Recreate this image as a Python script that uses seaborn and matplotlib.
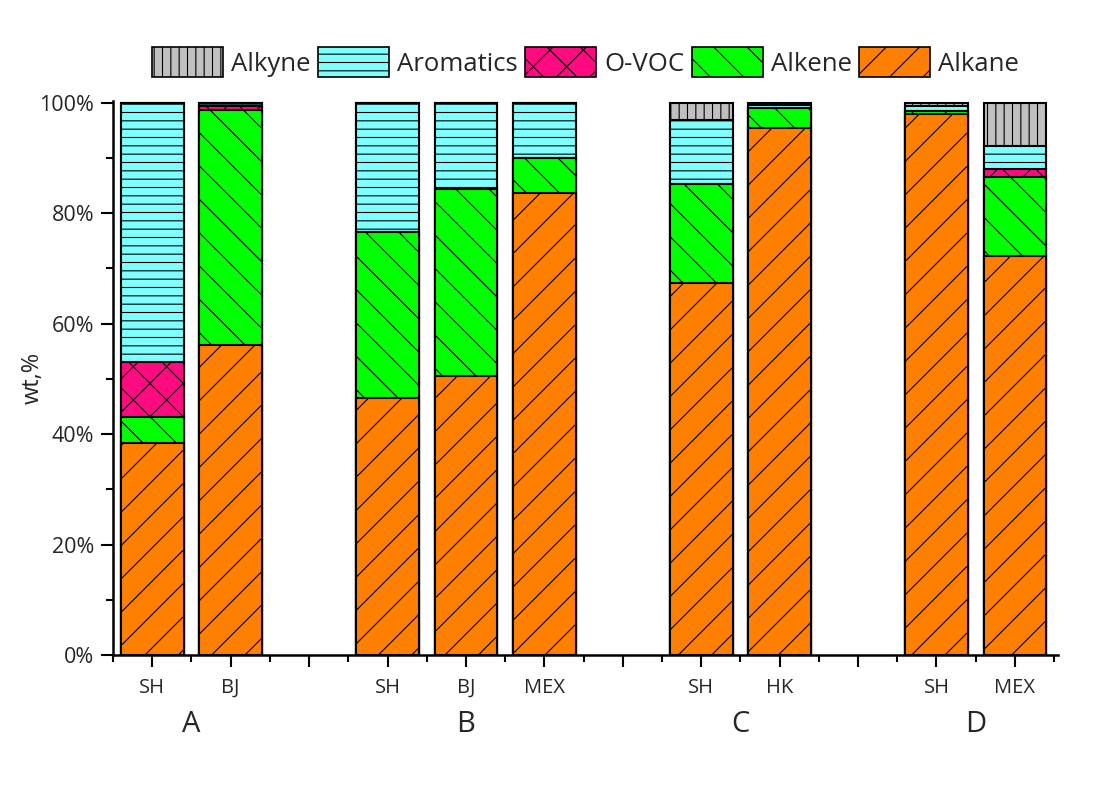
import numpy as np
import pandas as pd
import matplotlib
matplotlib.use("Agg")
import matplotlib.pyplot as plt
import seaborn as sns
from matplotlib.patches import Patch
from matplotlib.ticker import FixedLocator, MultipleLocator, FuncFormatter

# Composition (wt %) of VOC species per site, grouped by study
groups = ["A", "A", "B", "B", "B", "C", "C", "D", "D"]
sites = ["SH", "BJ", "SH", "BJ", "MEX", "SH", "HK", "SH", "MEX"]

alkane = [38.3, 56.1, 46.6, 50.5, 83.6, 67.3, 95.4, 97.9, 72.2]
alkene = [4.8, 42.6, 29.9, 33.8, 6.3, 17.9, 3.7, 0.5, 14.3]
ovoc = [10.0, 0.6, 0.0, 0.0, 0.0, 0.0, 0.0, 0.0, 1.4]
aromatics = [46.9, 0.7, 23.5, 15.7, 10.1, 11.7, 0.4, 1.0, 4.3]
alkyne = [0.0, 0.0, 0.0, 0.0, 0.0, 3.1, 0.5, 0.6, 7.8]

species = ["Alkane", "Alkene", "O-VOC", "Aromatics", "Alkyne"]  # bottom -> top
values = {"Alkane": alkane, "Alkene": alkene, "O-VOC": ovoc,
          "Aromatics": aromatics, "Alkyne": alkyne}
colors = {"Alkane": "#FF8000", "Alkene": "#00FF00", "O-VOC": "#FF0A80",
          "Aromatics": "#80FFFF", "Alkyne": "#C0C0C0"}
hatches = {"Alkane": "/", "Alkene": "\\", "O-VOC": "x",
           "Aromatics": "--", "Alkyne": "||"}

# slot positions, one empty slot between groups
positions = []
slot, prev = 0, None
for g in groups:
    if prev is not None and g != prev:
        slot += 1
    positions.append(slot)
    slot += 1
    prev = g
n_slots = slot

# cumulative tops for stacking
rows = []
cum = np.zeros(len(sites))
for s in species:
    cum = cum + np.array(values[s])
    for p, top in zip(positions, cum):
        rows.append({"pos": p, "species": s, "top": top})
df = pd.DataFrame(rows)

sns.set_theme(style="ticks")
plt.rcParams["font.family"] = ["Open Sans", "DejaVu Sans"]
plt.rcParams["hatch.linewidth"] = 0.8

fig = plt.figure(figsize=(11.05, 7.87), dpi=100)
ax = fig.add_axes([0.1023, 0.1677, 0.8552, 0.704])

# draw from the top layer down so each lower layer covers the one above
for s in reversed(species):
    sub = df[df["species"] == s]
    sns.barplot(data=sub, x="pos", y="top", native_scale=True, width=0.8,
                color=colors[s], saturation=1, edgecolor="black",
                linewidth=1.5, hatch=hatches[s], errorbar=None, ax=ax)

ax.set_xlim(-0.5, n_slots - 0.45)
ax.set_ylim(0, 100.3)

# x ticks: a major tick on every slot, labels on the bars only
ax.xaxis.set_major_locator(FixedLocator(range(n_slots)))
labels = [""] * n_slots
for p, s in zip(positions, sites):
    labels[p] = s
ax.set_xticklabels(labels)
ax.xaxis.set_minor_locator(FixedLocator(np.arange(-0.5, n_slots, 1.0)))

ax.yaxis.set_major_locator(MultipleLocator(20))
ax.yaxis.set_minor_locator(MultipleLocator(10))
ax.yaxis.set_major_formatter(FuncFormatter(lambda v, _: f"{v:.0f}%"))

ax.tick_params(axis="both", which="major", length=8.5, width=1.5,
               direction="out", color="black")
ax.tick_params(axis="both", which="minor", length=4.8, width=1.5,
               direction="out", color="black")
ax.tick_params(axis="x", which="major", labelsize=14.5, pad=8)
ax.tick_params(axis="y", which="major", labelsize=15.5, pad=5)

for side in ["top", "right"]:
    ax.spines[side].set_visible(False)
for side in ["left", "bottom"]:
    ax.spines[side].set_linewidth(1.8)
    ax.spines[side].set_color("black")

ax.set_xlabel("")
ax.set_ylabel("wt,%", fontsize=17, labelpad=-4)

# group labels under each set of bars
for g in dict.fromkeys(groups):
    ps = [p for p, gg in zip(positions, groups) if gg == g]
    ax.annotate(g, xy=(np.mean(ps), 0), xycoords=("data", "axes fraction"),
                xytext=(0, -50), textcoords="offset points",
                ha="center", va="center", fontsize=21)

handles = [Patch(facecolor=colors[s], edgecolor="black", hatch=hatches[s],
                 linewidth=1.2, label=s) for s in reversed(species)]
ax.legend(handles=handles, loc="lower center", bbox_to_anchor=(0.5, 1.025),
          ncol=5, frameon=False, fontsize=18.5, handlelength=2.75,
          handleheight=1.4, handletextpad=0.32, columnspacing=0.3,
          borderaxespad=0)

fig.savefig("out.png", dpi=100, facecolor="white")
